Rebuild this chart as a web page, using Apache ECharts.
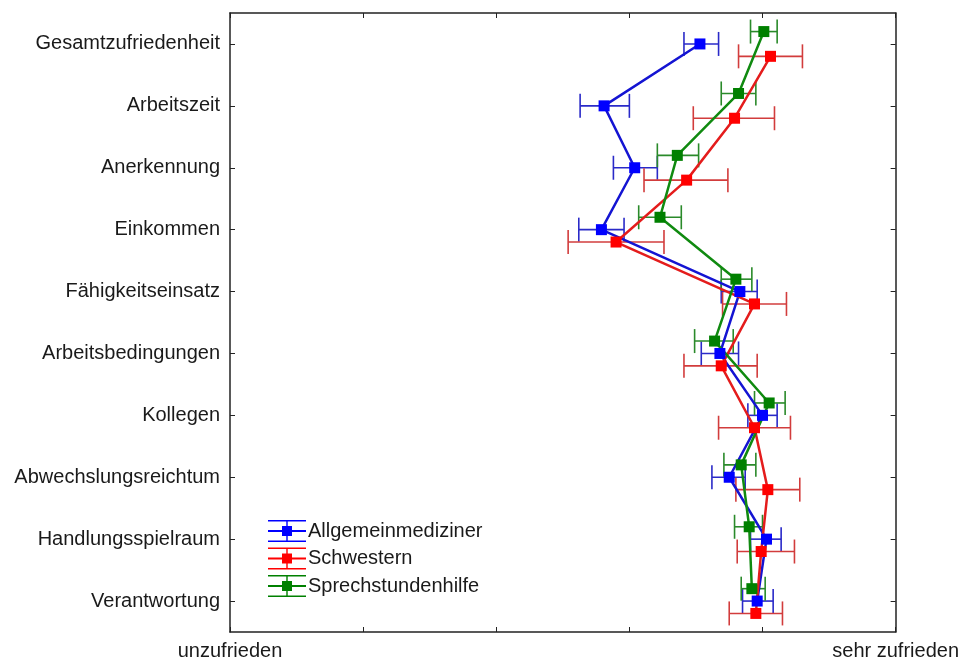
<!DOCTYPE html>
<html>
<head>
<meta charset="utf-8">
<script src="https://cdn.jsdelivr.net/npm/echarts@6/dist/echarts.min.js"></script>
<style>
html,body{margin:0;padding:0;background:#fff;}
#chart{width:962px;height:661px;}
</style>
</head>
<body>
<div id="chart"></div>
<script>
var categories = ['Gesamtzufriedenheit','Arbeitszeit','Anerkennung','Einkommen','Fähigkeitseinsatz','Arbeitsbedingungen','Kollegen','Abwechslungsreichtum','Handlungsspielraum','Verantwortung'];
var xTickLabels = {1: 'unzufrieden', 6: 'sehr zufrieden'};

var amMean = [4.53, 3.81, 4.04, 3.79, 4.83, 4.68, 5.00, 4.75, 5.03, 4.96];
var amLow  = [4.41, 3.63, 3.88, 3.62, 4.69, 4.54, 4.89, 4.62, 4.91, 4.85];
var amHigh = [4.67, 4.00, 4.21, 3.96, 4.96, 4.82, 5.11, 4.87, 5.14, 5.08];

var swMean = [5.06, 4.79, 4.43, 3.90, 4.94, 4.69, 4.94, 5.04, 4.99, 4.95];
var swLow  = [4.82, 4.48, 4.11, 3.54, 4.70, 4.41, 4.67, 4.80, 4.81, 4.75];
var swHigh = [5.30, 5.09, 4.74, 4.26, 5.18, 4.96, 5.21, 5.28, 5.24, 5.15];

var shMean = [5.01, 4.82, 4.36, 4.23, 4.80, 4.64, 5.05, 4.84, 4.90, 4.92];
var shLow  = [4.91, 4.69, 4.21, 4.07, 4.69, 4.49, 4.94, 4.71, 4.79, 4.84];
var shHigh = [5.11, 4.95, 4.52, 4.39, 4.92, 4.78, 5.17, 4.95, 5.00, 5.02];

var groups = [
  {name: 'Allgemeinmediziner', mean: amMean, low: amLow, high: amHigh, off: 0,
   line: '#1414d2', sym: '#0000ff', err: '#2a2ac8'},
  {name: 'Schwestern', mean: swMean, low: swLow, high: swHigh, off: 0.2,
   line: '#e41c1c', sym: '#ff0000', err: '#d23c3c'},
  {name: 'Sprechstundenhilfe', mean: shMean, low: shLow, high: shHigh, off: -0.2,
   line: '#108a10', sym: '#008000', err: '#2a8a2a'}
];

var FONT = '"Liberation Sans", Arial, sans-serif';
var TXT = '#1a1a1a';
var AX = '#222';

var legendIcon = 'path://M0,0H38V1.4H0Z M0,20.6H38V22H0Z M18.3,0H19.7V22H18.3Z M0,10.1H38V11.9H0Z M14,6H24V16H14Z';

var series = [];
groups.forEach(function (g) {
  var errData = g.mean.map(function (m, i) { return [g.low[i], g.high[i], i + g.off]; });
  series.push({
    type: 'custom',
    name: g.name + '_err',
    xAxisIndex: 0,
    yAxisIndex: 1,
    silent: true,
    z: 2,
    data: errData,
    encode: {x: [0, 1], y: 2},
    renderItem: function (params, api) {
      var p1 = api.coord([api.value(0), api.value(2)]);
      var p2 = api.coord([api.value(1), api.value(2)]);
      var h = 12;
      var st = {stroke: g.err, lineWidth: 1.6};
      return {
        type: 'group',
        children: [
          {type: 'line', shape: {x1: p1[0], y1: p1[1], x2: p2[0], y2: p2[1]}, style: st},
          {type: 'line', shape: {x1: p1[0], y1: p1[1] - h, x2: p1[0], y2: p1[1] + h}, style: st},
          {type: 'line', shape: {x1: p2[0], y1: p2[1] - h, x2: p2[0], y2: p2[1] + h}, style: st}
        ]
      };
    }
  });
});
groups.forEach(function (g) {
  series.push({
    type: 'line',
    name: g.name,
    xAxisIndex: 0,
    yAxisIndex: 1,
    z: 3,
    data: g.mean.map(function (m, i) { return [m, i + g.off]; }),
    symbol: 'rect',
    symbolSize: 11,
    showAllSymbol: true,
    lineStyle: {color: g.line, width: 2.5},
    itemStyle: {color: g.sym},
    color: g.sym,
    animation: false
  });
});

var chart = echarts.init(document.getElementById('chart'), null, {renderer: 'canvas'});
chart.setOption({
  animation: false,
  backgroundColor: '#fff',
  grid: {left: 230, right: 65, top: 13, bottom: 29, containLabel: false},
  legend: {
    orient: 'vertical',
    left: 263,
    top: 515,
    itemWidth: 38,
    itemHeight: 22,
    itemGap: 5.5,
    data: groups.map(function (g) { return {name: g.name, icon: legendIcon, itemStyle: {color: g.sym}}; }),
    textStyle: {fontFamily: FONT, fontSize: 20, color: TXT, padding: [0, 0, 0, -3]},
    selectedMode: false
  },
  xAxis: [{
    type: 'value',
    position: 'bottom',
    min: 1, max: 6, interval: 1,
    axisLine: {show: true, onZero: false, lineStyle: {color: AX, width: 1.5}},
    axisTick: {show: true, inside: true, length: 5, lineStyle: {color: AX}},
    splitLine: {show: false},
    axisLabel: {
      show: true, margin: 9,
      fontFamily: FONT, fontSize: 20, color: TXT,
      formatter: function (v) { return xTickLabels[v] || ''; }
    }
  }, {
    type: 'value',
    position: 'top',
    min: 1, max: 6, interval: 1,
    axisLine: {show: true, onZero: false, lineStyle: {color: AX, width: 1.5}},
    axisTick: {show: true, inside: true, length: 5, lineStyle: {color: AX}},
    splitLine: {show: false},
    axisLabel: {show: false}
  }],
  yAxis: [{
    type: 'category',
    position: 'left',
    inverse: true,
    data: categories,
    boundaryGap: true,
    axisLine: {show: true, onZero: false, lineStyle: {color: AX, width: 1.5}},
    axisTick: {show: true, inside: true, alignWithLabel: true, length: 5, lineStyle: {color: AX}},
    axisLabel: {margin: 10, fontFamily: FONT, fontSize: 20, color: TXT},
    splitLine: {show: false}
  }, {
    type: 'value',
    show: false,
    position: 'left',
    inverse: true,
    min: -0.5, max: 9.5,
    splitLine: {show: false}
  }, {
    type: 'category',
    position: 'right',
    inverse: true,
    data: categories,
    boundaryGap: true,
    axisLine: {show: true, onZero: false, lineStyle: {color: AX, width: 1.5}},
    axisTick: {show: true, inside: true, alignWithLabel: true, length: 5, lineStyle: {color: AX}},
    axisLabel: {show: false},
    splitLine: {show: false}
  }],
  series: series
});
</script>
</body>
</html>
